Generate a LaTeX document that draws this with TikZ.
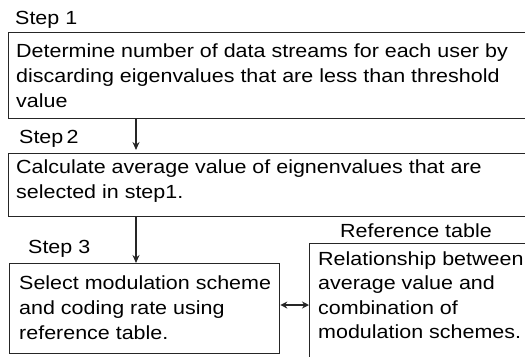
\documentclass[tikz,border=0pt]{standalone}
\usepackage{fontspec}
\newfontfamily\diafont{Liberation Sans}[FakeStretch=1.13]
\usetikzlibrary{arrows.meta}
\begin{document}
\begin{tikzpicture}[x=1bp,y=-1bp,
  box/.style={draw=black!85,line width=1.3bp,rectangle,inner sep=0pt,anchor=north west},
  txt/.style={anchor=base west,inner sep=0pt,align=left,text=black,
    font=\diafont\fontsize{19bp}{25bp}\selectfont},
  arr/.style={draw=black!85,line width=1.3bp,-{Stealth[length=8bp,width=7bp]}},
  darr/.style={draw=black!85,line width=1.3bp,{Stealth[length=7bp,width=7bp]}-{Stealth[length=7bp,width=7bp]}}]
\useasboundingbox (0,0) rectangle (525,356);
\clip (0,0) rectangle (525,356);
% boxes
\node[box,minimum width=560bp,minimum height=86bp] (b1) at (8,32) {};
\node[box,minimum width=560bp,minimum height=63bp] (b2) at (8,153) {};
\node[box,minimum width=270bp,minimum height=90bp] (b3) at (9,263) {};
\node[box,minimum width=260bp,minimum height=140bp] (rt) at (309,243) {};
% labels (multi-line texts are placed by the baseline of their last line)
\node[txt] (s1) at (15,24) {Step 1};
\node[txt] (t1) at (16,107) {Determine number of data streams for each user by\\discarding eigenvalues that are less than threshold\\value};
\node[txt] (s2) at (19,143) {Step\,2};
\node[txt] (t2) at (16,198) {Calculate average value of eignenvalues that are\\selected in step1.};
\node[txt] (s3) at (28,253) {Step 3};
\node[txt] (t3) at (19,339) {Select modulation scheme\\and coding rate using\\reference table.};
\node[txt] (rl) at (340,237) {Reference table};
\node[txt,font=\diafont\fontsize{19bp}{24.5bp}\selectfont] (t4) at (318,338.5) {Relationship between\\average value and\\combination of\\modulation schemes.};
% connectors
\coordinate (ax) at (136,0);
\coordinate (ay) at (0,305);
\draw[arr] (b1.south -| ax) -- ([yshift=3bp]b2.north -| ax);
\draw[arr] (b2.south -| ax) -- (b3.north -| ax);
\draw[darr] (b3.east |- ay) -- (rt.west |- ay);
\end{tikzpicture}
\end{document}
